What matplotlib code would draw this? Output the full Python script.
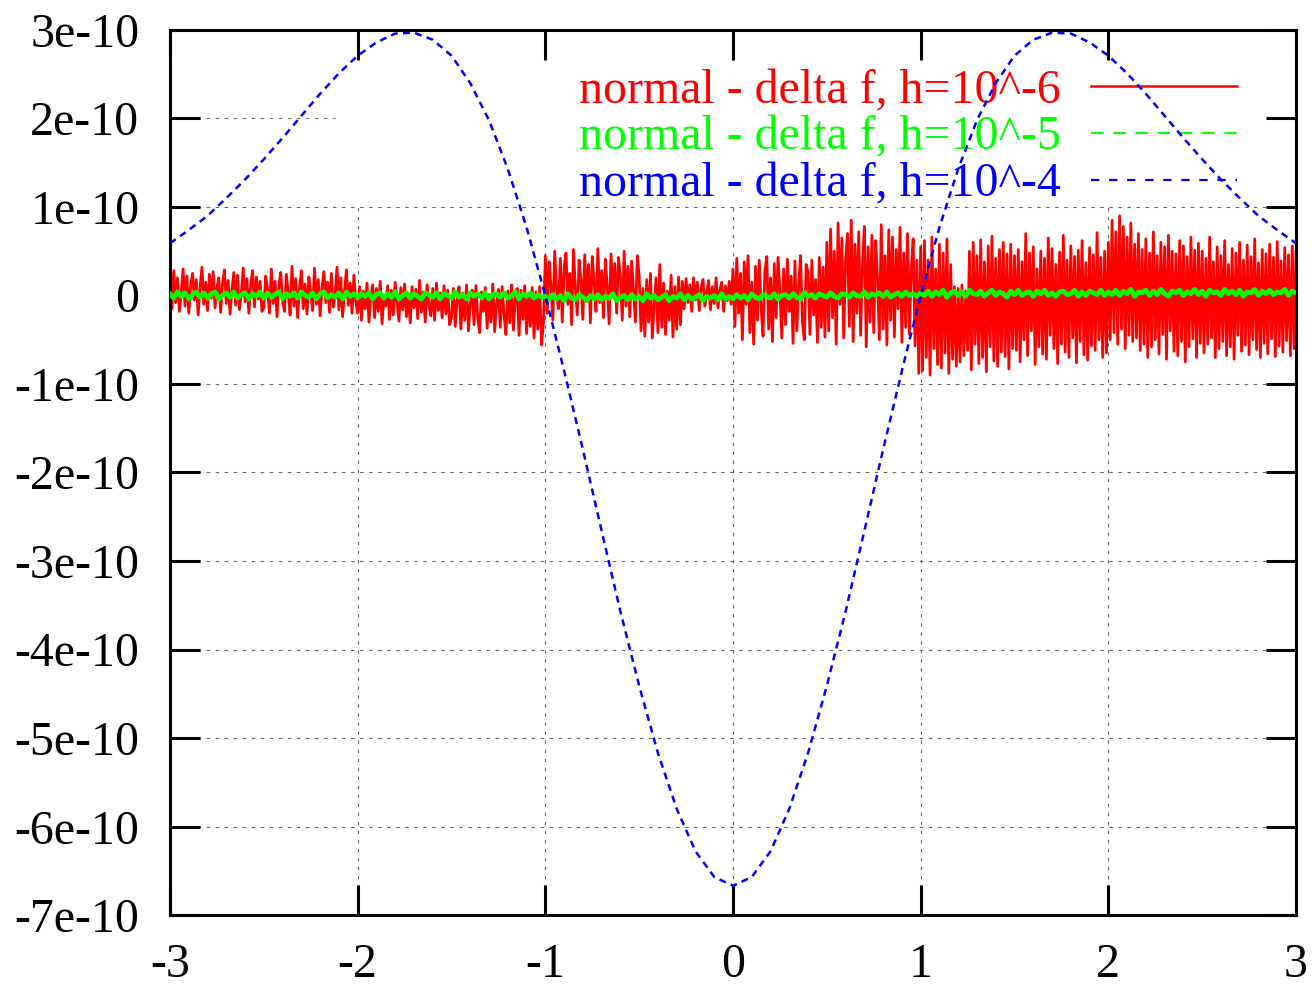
import numpy as np
import matplotlib
matplotlib.use("Agg")
import matplotlib.pyplot as plt
from matplotlib.lines import Line2D

plt.rcParams['font.family'] = ['Liberation Serif', 'DejaVu Serif']
plt.rcParams['lines.scale_dashes'] = False

# ---------------- data ----------------
x_ticks = [-3, -2, -1, 0, 1, 2, 3]
x_tick_labels = ['-3', '-2', '-1', '0', '1', '2', '3']
y_ticks = [3e-10, 2e-10, 1e-10, 0, -1e-10, -2e-10, -3e-10, -4e-10, -5e-10, -6e-10, -7e-10]
y_tick_labels = ['3e-10', '2e-10', '1e-10', '0', '-1e-10', '-2e-10', '-3e-10',
                 '-4e-10', '-5e-10', '-6e-10', '-7e-10']

series_labels = ['normal - delta f, h=10^-6',
                 'normal - delta f, h=10^-5',
                 'normal - delta f, h=10^-4']

# h = 10^-4 curve, values in units of 1e-10, sampled at x = -3.0 ... 3.0 (step 0.1)
blue_vals = [0.59, 0.74, 0.90, 1.10, 1.31, 1.54, 1.78, 2.03, 2.28, 2.51,
             2.71, 2.86, 2.96, 2.97, 2.89, 2.71, 2.40, 1.98, 1.43, 0.77,
             0.00, -0.85, -1.74, -2.66, -3.57, -4.41, -5.17, -5.80, -6.28, -6.57,
             -6.67,
             -6.57, -6.28, -5.80, -5.17, -4.41, -3.57, -2.66, -1.74, -0.85, 0.00,
             0.77, 1.43, 1.98, 2.40, 2.71, 2.89, 2.97, 2.96, 2.86, 2.71,
             2.51, 2.28, 2.03, 1.78, 1.54, 1.31, 1.10, 0.90, 0.74, 0.59]

# h = 10^-6 values, units of 1e-12, x = -3.00 ... 3.00 (step 0.01)
red_a = [12, -15, 28, -8, 20, -18, 5, 30, -12, 22, -20, 10, 25, -5, 18, -22, 8, 32, -10, 15,
         -17, 24, -3, 27, -14, 9, 20, -19, 14, 29, -9, 17, -21, 6, 26, -11, 23, -16, 3, 31,
         -7, 19, -20, 12, 28, -13, 21, -4, 16, -18]
red_b = [-14, 22, 7, -20, 30, -9, 16, -24, 11, 26, -6, -18, 24, 3, -22, 33, -12, 19, -25, 8,
         28, -15, 13, -21, 21, 4, -17, 31, -10, 18, -23, 9, 27, -8, 15, -19, 25, -13, 1, 32,
         -16, 20, -24, 6, 29, -11, 14, -20, 23, -7]
red_c = [-20, 10, -28, 5, -15, 14, -30, -2, 12, -25, 8, -18, 16, -32, 0, -12, 11, -27, 6, -22,
         15, -8, -29, 9, -16, 13, -24, 2, -31, 10, -14, 7, -26, 17, -19, 4, -30, 12, -10, -23,
         8, -28, 14, -17, 3, -25, 11, -21, 6, -33]
red_d = [-24, 8, -35, -5, 10, -38, 3, -28, 12, -40, -10, 6, -33, 11, -26, -42, 4, -18, 9, -37,
         1, -30, 13, -41, -8, 7, -36, 10, -22, -44, 5, -31, 12, -39, -3, 8, -45, 6, -27, 11,
         -43, 2, -35, 9, -48, 4, -38, 10, -56, -30]
red_e = [45, -20, 38, 12, -28, 50, 5, -15, 42, -30, 30, 48, -10, 25, -33, 52, 8, -22, 40, 18,
         -27, 46, -5, 35, -31, 44, 15, -18, 53, -8, 28, -25, 41, 10, -32, 47, 2, 36, -20, 43,
         20, -28, 50, -12, 33, -24, 39, 6, -30, 45]
red_f = [22, -40, 8, -46, 18, -30, 25, -48, -12, 20, -42, 35, -36, 14, -44, 5, -28, 23, -47, 10,
         -38, 21, -33, 16, -15, 19, -8, 12, -18, 20, -5, 15, -17, 8, 18, -12, 3, 17, -16, 10,
         -9, 20, -14, 6, 15, -18, 11, -6, 16, -10]
red_g = [30, -35, 42, -20, 25, -50, 38, -10, 45, -42, 15, -55, 33, -28, 40, -15, -46, 28, 44, -38,
         20, -52, 36, -25, 43, 5, -48, 30, -33, 41, -18, 22, -54, 39, -40, 12, 45, -30, -50, 35,
         26, -44, 40, -22, 18, -53, 43, -36, 32, -47]
red_h = [60, -40, 75, -25, 50, -55, 82, -10, 65, -48, 40, 70, -35, 85, -52, 58, -20, 72, -45, 35,
         78, -58, 55, -30, 68, -42, 62, 20, -50, 80, -38, 45, -56, 74, -28, 66, -47, 52, -15, 77,
         -53, 48, -36, 70, -44, 30, 64, -57, 40, -88]
red_i = [55, -85, 62, -70, 40, -90, 66, -60, 30, -78, 58, -82, 48, -65, 64, -88, 35, -72, 10, -80,
         8, -75, 12, -68, 5, -62, 50, -84, 60, -55, 45, -77, 63, -70, 38, -86, 56, -58, 67, -74,
         42, -80, 52, -64, 60, -69, 47, -83, 58, -60]
red_j = [45, -62, 52, -75, 38, -50, 70, -68, 48, -40, 55, -78, 30, -58, 50, -66, 42, -72, 65, -45,
         53, -60, 35, -77, 49, -55, 68, -64, 40, -70, 56, -48, 44, -76, 51, -52, 62, -67, 37, -73,
         54, -57, 46, -62, 71, -50, 43, -70, 50, -65]
red_k = [60, -50, 85, -42, 72, -55, 90, -38, 78, -60, 66, -45, 82, -52, 58, -48, 70, -62, 52, -55,
         64, -70, 48, -58, 72, -50, 45, -66, 60, -44, 55, -72, 68, -40, 50, -63, 47, -68, 62, -52,
         56, -75, 44, -58, 66, -49, 51, -70, 59, -54]
red_l = [50, -65, 42, -55, 66, -48, 38, -70, 55, -60, 45, -52, 62, -68, 35, -58, 53, -72, 48, -45,
         60, -63, 40, -56, 57, -67, 44, -50, 64, -61, 37, -70, 52, -54, 47, -66, 58, -49, 43, -69,
         61, -57, 39, -64, 54, -51, 46, -68, 56, -60, 50]

# h = 10^-5 values, units of 1e-12, x = -3.00 ... 3.00 (step 0.02)
green_a = [2, -3, 4, -1, 3, -4, 1, 4, -2, 3, -3, 2, 4, -4, 0, 3, -2, 4, -3, 1,
           3, -4, 2, -1, 4, -3, 3, -2, 1, 4, -4, 2, -1, 3, -3, 4, 0, -2, 3, -4,
           2, 4, -3, 1, -2, 3, -4, 4, -1, 2]
green_b = [-3, 2, -1, 3, -4, 1, 3, -3, 2, -2, 4, -4, 0, 3, -3, 2, -1, -4, 3, 1,
           -2, 3, -4, 2, 0, -3, 4, -2, 1, -4, 3, -1, 2, -3, 3, -4, 1, 2, -2, 3,
           -3, 0, 4, -4, 2, -1, 3, -3, 1, -2]
green_c = [-1, -5, 1, -4, 0, -6, 2, -3, -5, 1, -2, -6, 0, -4, 1, -5, -1, -3, 2, -6,
           -2, 0, -5, 1, -4, -1, -6, 2, -3, 0, -5, -2, 1, -6, -1, -3, 2, -5, 0, -4,
           -2, 1, -6, -1, -3, 0, -5, 2, -4, -1]
green_d = [-4, 1, -3, 0, -5, 2, -2, -4, 1, -1, -3, 2, -4, 0, 1, -3, 2, -2, -4, 3,
           -1, 1, -3, 2, 0, -2, 3, -1, -3, 2, 1, -2, 3, 0, -1, 4, -2, 2, 0, 3,
           -1, 4, -2, 1, 3, -1, 4, 0, 2, -1]
green_e = [3, 0, 5, -1, 4, 1, 6, -2, 3, 5, 0, 4, -1, 6, 2, 1, 5, -1, 3, 6,
           0, 4, 2, -2, 5, 1, 6, 0, 3, 4, -1, 5, 2, 6, 0, 3, -1, 4, 5, 1,
           2, 6, -1, 4, 0, 5, 3, 1, 6, 0]
green_f = [4, 1, 6, 0, 5, 2, 7, -1, 4, 3, 6, 0, 5, 1, 7, 2, -1, 5, 3, 6,
           0, 4, 2, 7, 1, 5, -1, 6, 3, 4, 0, 7, 2, 5, 1, 6, -1, 4, 3, 7,
           0, 5, 2, 6, 1, 4, 3, 7, 0, 5, 3]

red_vals = np.array(red_a + red_b + red_c + red_d + red_e + red_f +
                    red_g + red_h + red_i + red_j + red_k + red_l) * 1e-12
green_vals = np.array(green_a + green_b + green_c + green_d + green_e + green_f) * 1e-12
blue_y = np.array(blue_vals) * 1e-10

red_x = np.linspace(-3, 3, len(red_vals))
green_x = np.linspace(-3, 3, len(green_vals))
blue_x = np.linspace(-3, 3, len(blue_y))

# ---------------- figure ----------------
fig = plt.figure(figsize=(13.12, 9.85), dpi=100)
ax = fig.add_axes([170 / 1312, 1 - 915 / 985, (1296 - 170) / 1312, (915 - 30) / 985])
ax.set_xlim(-3, 3)
ax.set_ylim(-7e-10, 3e-10)

# grid (gnuplot key area hides the upper-right part)
grid_kw = dict(color='#666666', lw=0.8, dashes=(2.5, 4), zorder=1)
for yv in y_ticks:
    if -7e-10 < yv < 1.5e-10:
        ax.plot([-3, 3], [yv, yv], **grid_kw)
ax.plot([-3, -2.12], [2e-10, 2e-10], **grid_kw)
for xv in x_ticks[1:-1]:
    ax.plot([xv, xv], [-7e-10, 1e-10], **grid_kw)

ax.plot(red_x, red_vals, color='#ff0000', lw=2.0, zorder=2)
ax.plot(green_x, green_vals, color='#00ff00', lw=3.4, zorder=3)
ax.plot(blue_x, blue_y, color='#0000ff', lw=1.8, dashes=(5, 3.8), zorder=4)

ax.set_xticks(x_ticks)
ax.set_xticklabels(x_tick_labels)
ax.set_yticks(y_ticks)
ax.set_yticklabels(y_tick_labels)
ax.tick_params(axis='both', direction='in', length=21.5, width=2.2,
               top=True, right=True, labelsize=34.5, colors='black')
ax.tick_params(axis='y', pad=22)
ax.tick_params(axis='x', pad=20)
for s in ax.spines.values():
    s.set_linewidth(2.2)

handles = [Line2D([], [], color='#ff0000', lw=1.8),
           Line2D([], [], color='#00ff00', lw=1.4, dashes=(9, 7)),
           Line2D([], [], color='#0000ff', lw=1.6, dashes=(6, 7))]
leg = ax.legend(handles, series_labels, loc='upper right',
                bbox_to_anchor=(1237 / 1312, 1 - 69 / 985), bbox_transform=fig.transFigure,
                frameon=False, markerfirst=False, fontsize=34.5, labelcolor='linecolor',
                handlelength=3.05, handletextpad=0.62, labelspacing=0.06,
                borderpad=0, borderaxespad=0)
leg.set_zorder(3.5)

fig.savefig('out.png', dpi=100)
